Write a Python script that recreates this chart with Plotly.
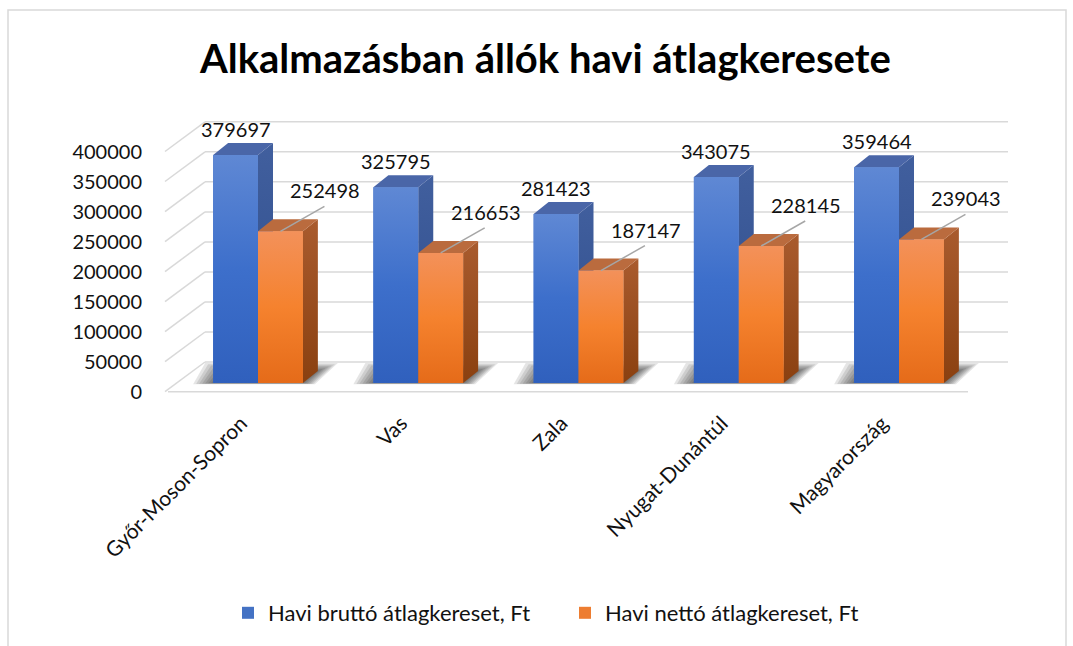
import plotly.graph_objects as go

# ---------------- data ----------------
categories = ["Győr-Moson-Sopron", "Vas", "Zala", "Nyugat-Dunántúl", "Magyarország"]
brutto = [379697, 325795, 281423, 343075, 359464]
netto = [252498, 216653, 187147, 228145, 239043]
series_names = ["Havi bruttó átlagkereset, Ft", "Havi nettó átlagkereset, Ft"]
y_ticks = [0, 50000, 100000, 150000, 200000, 250000, 300000, 350000, 400000]
title_text = "Alkalmazásban állók havi átlagkeresete"

# ---------------- layout geometry (pixels) ----------------
W, H = 1073, 646
PX_L, PX_R, PX_T, PX_B = 159, 1013, 95, 400
CAT0_PX, CAT_PX = 258.0, 160.25
ZERO_PX, PX_PER_UNIT = 383.0, 0.0006005
UPP = 1.0 / PX_PER_UNIT
XR = [(PX_L - CAT0_PX) / CAT_PX, (PX_R - CAT0_PX) / CAT_PX]
YR = [-(PX_B - ZERO_PX) * UPP, (ZERO_PX - PX_T) * UPP]


def dx(p):
    return p / CAT_PX


def dy(p):
    return p * UPP


OFF, BW = 0.14, 0.28
DX, DY = dx(15), dy(12)
FRONT = dy(8.7)
BACK = dy(21)
XL0, XB0, XB1 = dx(165 - CAT0_PX), dx(205 - CAT0_PX), dx(1008 - CAT0_PX)
XF0, XF1 = dx(168 - CAT0_PX), dx(968 - CAT0_PX)

FONT = "Lato, 'Open Sans', sans-serif"
GRID = "#d9d9d9"

styles = [
    dict(front=[[0, "#3060bd"], [0.5, "#3d6fcb"], [1, "#5f88d4"]],
         side=[[0, "#2d4c8a"], [1, "#415f9e"]], top="#4a66a8", legend="#4472c4"),
    dict(front=[[0, "#e56b19"], [0.5, "#f5822e"], [1, "#f3915a"]],
         side=[[0, "#8a4010"], [1, "#a95b2e"]], top="#ba6b3e", legend="#ed7d31"),
]
series = [brutto, netto]
offsets = [-OFF, OFF]

fig = go.Figure()

# legend-carrying bars (front faces)
for s, vals in enumerate(series):
    fig.add_trace(go.Bar(
        x=[i + offsets[s] for i in range(len(categories))], y=vals, width=BW,
        name=series_names[s], marker=dict(color=styles[s]["legend"], line=dict(width=0)),
        hoverinfo="skip"))

# 3D faces
for i in range(len(categories)):
    for s, vals in enumerate(series):
        v = vals[i]
        xl = i + offsets[s] - BW / 2
        xr = i + offsets[s] + BW / 2
        st = styles[s]
        fig.add_trace(go.Scatter(
            x=[xr, xr + DX, xr + DX, xr, xr], y=[0, DY, v + DY, v, 0],
            mode="none", fill="toself", showlegend=False, hoverinfo="skip",
            fillgradient=dict(type="vertical", colorscale=st["side"], start=0, stop=v + DY)))
        fig.add_trace(go.Scatter(
            x=[xl, xl + DX, xr + DX, xr, xl], y=[v, v + DY, v + DY, v, v],
            mode="none", fill="toself", fillcolor=st["top"], showlegend=False, hoverinfo="skip"))
        fig.add_trace(go.Scatter(
            x=[xl, xr, xr, xl, xl], y=[0, 0, v, v, 0],
            mode="none", fill="toself", showlegend=False, hoverinfo="skip",
            fillgradient=dict(type="vertical", colorscale=st["front"], start=0, stop=v)))

shapes = []
for t in y_ticks:
    shapes.append(dict(type="line", xref="x", yref="y", x0=XB0, x1=XB1, y0=t + BACK, y1=t + BACK,
                       line=dict(color=GRID, width=1.5), layer="below"))
    shapes.append(dict(type="line", xref="x", yref="y", x0=XL0, x1=XB0, y0=t - FRONT, y1=t + BACK,
                       line=dict(color=GRID, width=1.5), layer="below"))
shapes.append(dict(type="line", xref="x", yref="y", x0=XF0, x1=XF1, y0=-FRONT, y1=-FRONT,
                   line=dict(color=GRID, width=1.5), layer="below"))

# soft shadows on the floor (layered to fake a blur)
WPX = 2 * BW * CAT_PX
for i in range(len(categories)):
    x0 = i - BW
    for e in [20, 17, 14, 11, 8, 5, 2]:
        h = 12 + 0.4 * e
        f = -0.06 * e
        pts = [(-e, f), (WPX + 0.6 * e, f),
               (WPX + 15 + e, h), (-e + 12, h)]
        path = "M " + " L ".join(f"{x0 + dx(px)},{dy(py)}" for px, py in pts) + " Z"
        shapes.append(dict(type="path", xref="x", yref="y", path=path,
                           fillcolor="rgba(0,0,0,0.10)", line=dict(width=0), layer="below"))

# leader lines for netto labels
for i, v in enumerate(netto):
    shapes.append(dict(type="line", xref="x", yref="y", xsizemode="pixel", ysizemode="pixel",
                       xanchor=i + OFF, yanchor=v, x0=0, x1=44, y0=0, y1=25,
                       line=dict(color="#a6a6a6", width=1.5)))

# outer frame
shapes.append(dict(type="rect", xref="paper", yref="paper", x0=8 / W, x1=1066 / W,
                   y0=-0.05, y1=1 - 10 / H, line=dict(color=GRID, width=1.5)))

annotations = []
for i, v in enumerate(brutto):
    annotations.append(dict(x=i - OFF, y=v, xref="x", yref="y", text=str(v), showarrow=False,
                            yshift=26, font=dict(family=FONT, size=20, color="#111111")))
for i, v in enumerate(netto):
    annotations.append(dict(x=i + OFF, y=v, xref="x", yref="y", text=str(v), showarrow=False,
                            xshift=45, yshift=41, font=dict(family=FONT, size=20, color="#111111")))
annotations.append(dict(x=545 / W, y=1 - 58 / H, xref="paper", yref="paper", text=f"<b>{title_text}</b>",
                        showarrow=False, xanchor="center", yanchor="middle",
                        font=dict(family=FONT, size=40, color="#000000")))

fig.update_layout(
    width=W, height=H, margin=dict(l=0, r=0, t=0, b=0, pad=0),
    paper_bgcolor="white", plot_bgcolor="white", barmode="overlay",
    showlegend=True,
    legend=dict(orientation="h", x=228 / W, y=1 - 613 / H, xanchor="left", yanchor="middle",
                font=dict(family=FONT, size=22, color="#111111"), entrywidth=292,
                entrywidthmode="pixels", bgcolor="rgba(0,0,0,0)"),
    xaxis=dict(domain=[PX_L / W, PX_R / W], range=XR, tickvals=list(range(len(categories))),
               ticktext=categories, tickangle=-45, showgrid=False, zeroline=False, showline=False,
               ticks="", ticklabelshift=-17, ticklabelstandoff=6,
               tickfont=dict(family=FONT, size=21, color="#111111"), automargin=False),
    yaxis=dict(domain=[1 - PX_B / H, 1 - PX_T / H], range=YR,
               tickvals=[t - FRONT for t in y_ticks], ticktext=[str(t) for t in y_ticks],
               showgrid=False, zeroline=False, showline=False, ticks="outside", ticklen=12,
               tickcolor="rgba(0,0,0,0)", tickfont=dict(family=FONT, size=20, color="#111111"),
               automargin=False),
    shapes=shapes, annotations=annotations,
)

fig.write_html("out.html", config={"displayModeBar": False},
               post_script="document.body.style.margin='0px';")
